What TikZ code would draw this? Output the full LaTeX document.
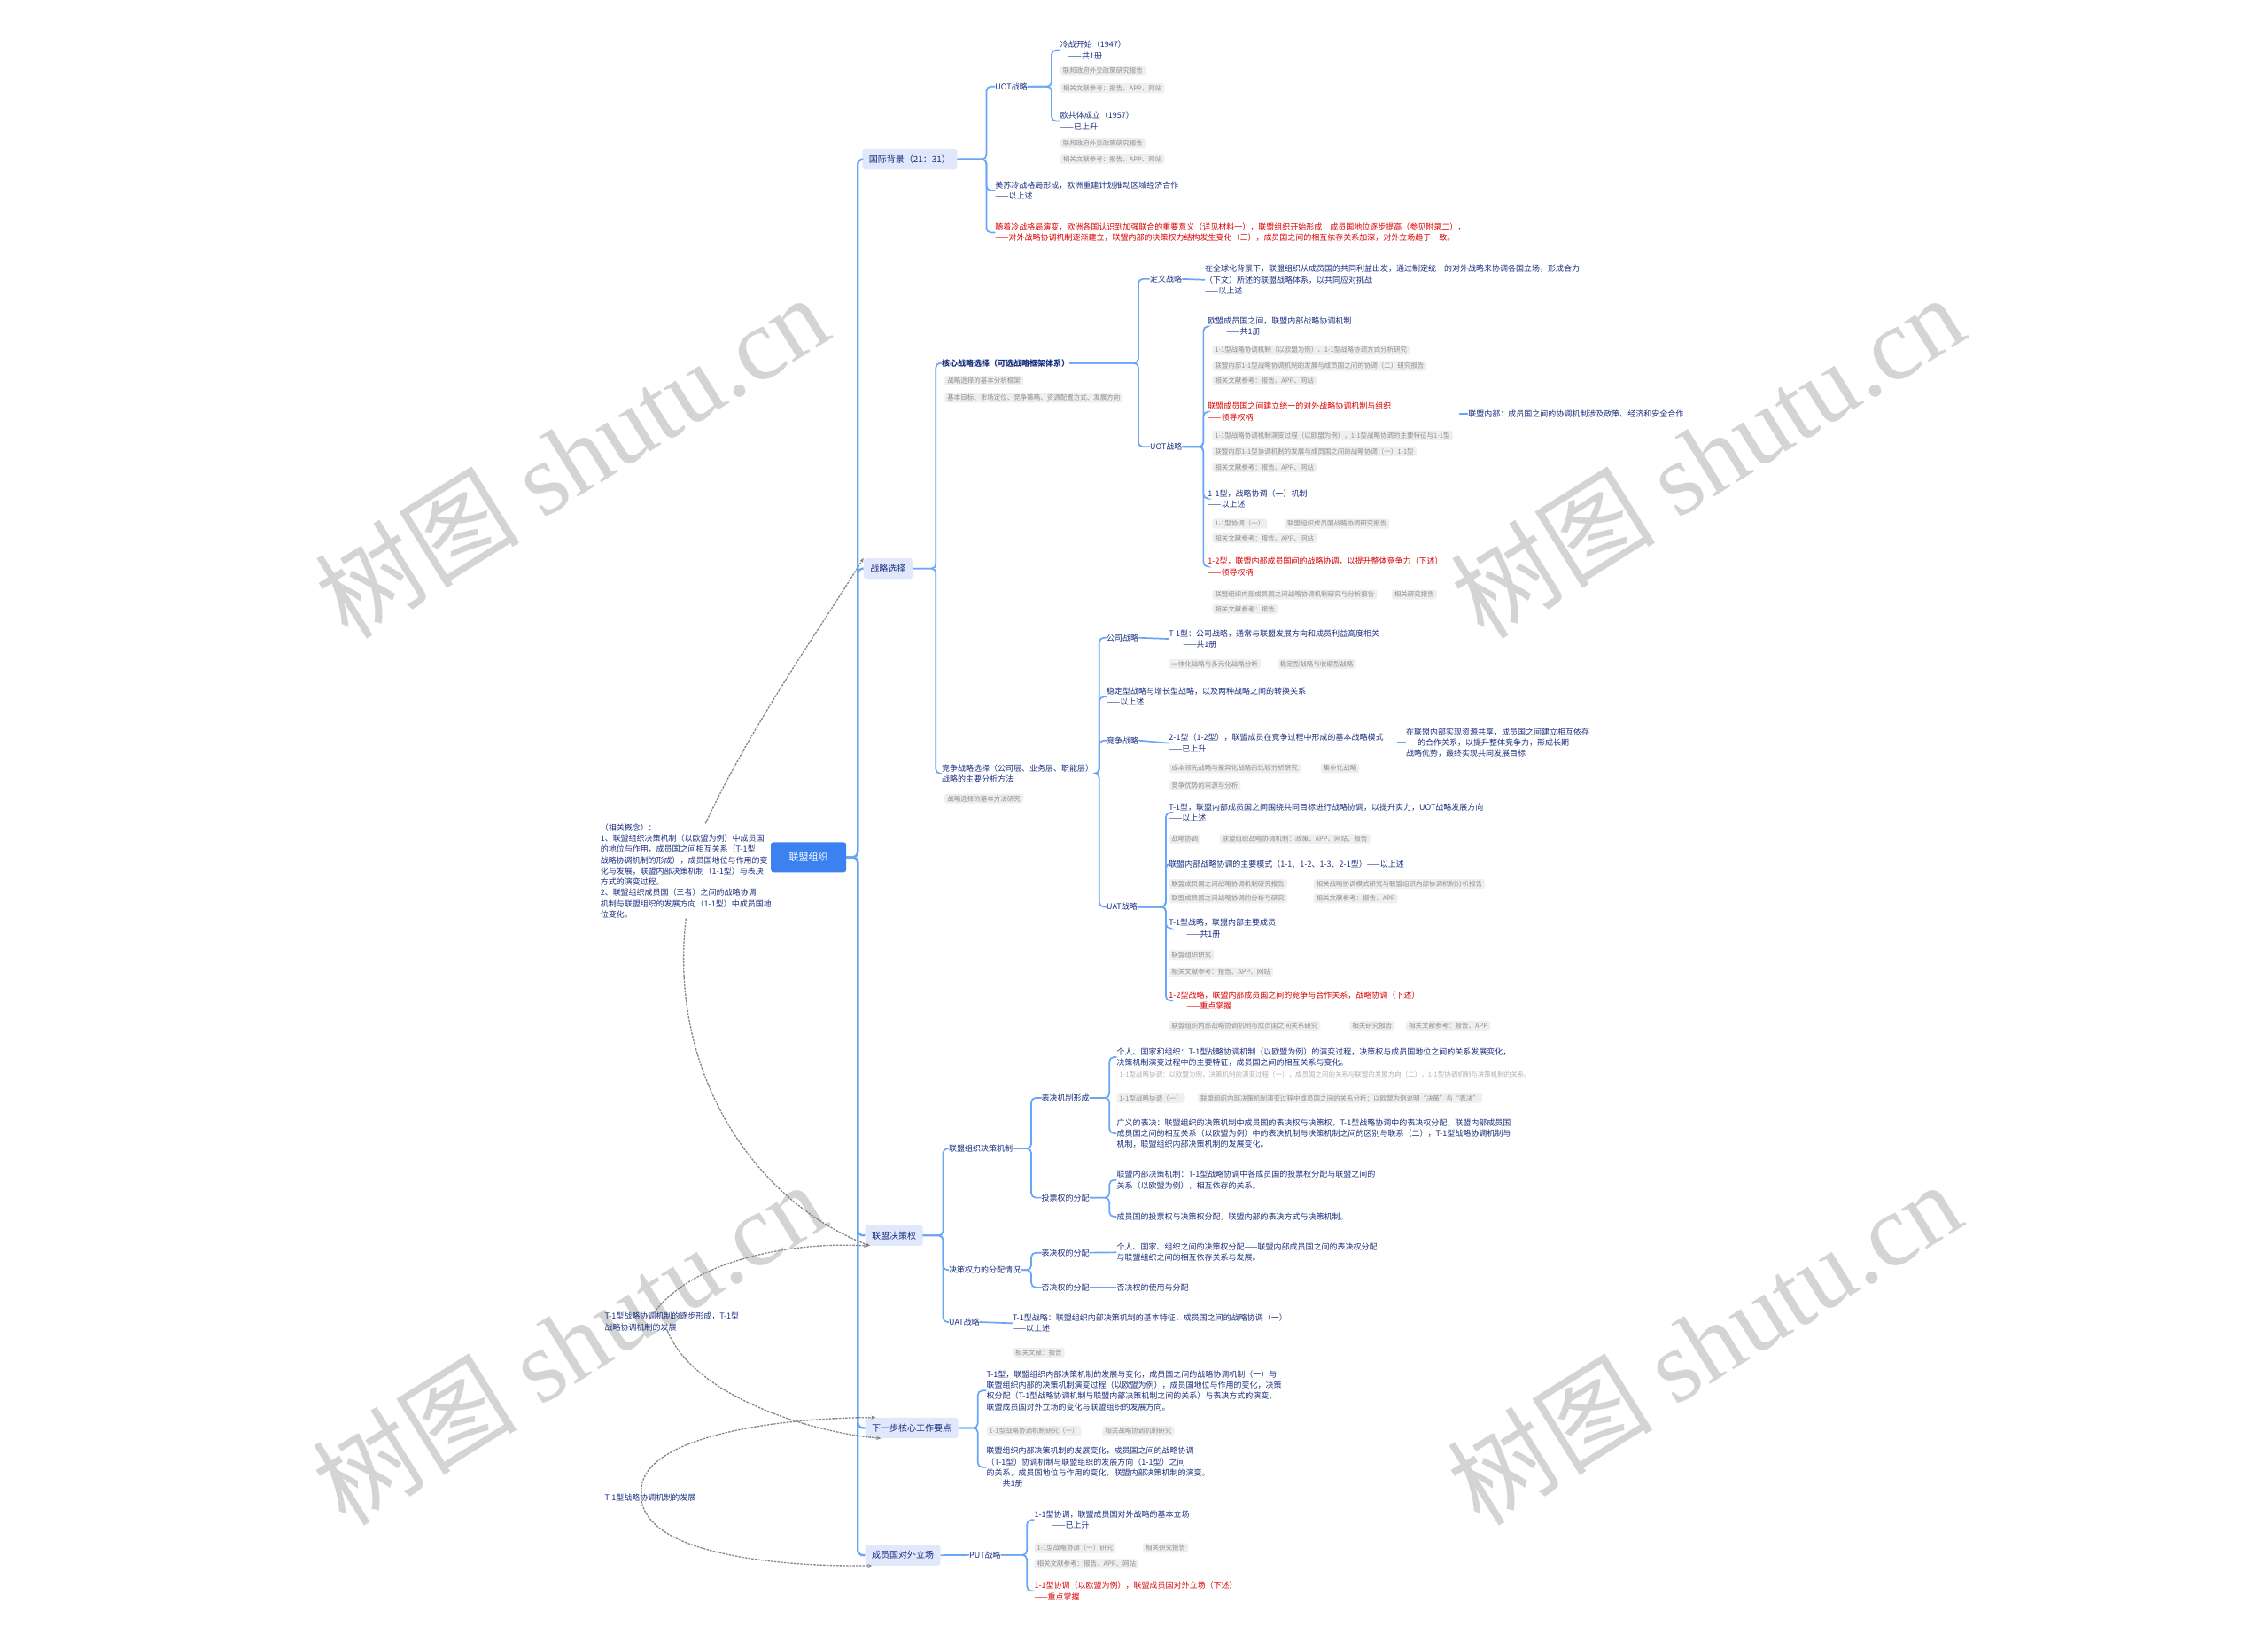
\documentclass[tikz,border=0pt]{standalone}
\usepackage{fontspec}
\setmainfont{Noto Sans CJK SC}
\newfontfamily\wmlat{Liberation Serif}
\usetikzlibrary{arrows.meta}
\definecolor{navy}{HTML}{1A2F80}
\definecolor{rred}{HTML}{DD0000}
\definecolor{lnk}{HTML}{6AA6F8}
\definecolor{lvone}{HTML}{E2E8FB}
\definecolor{rootc}{HTML}{3B82F0}
\definecolor{pillf}{HTML}{EFEFEF}
\definecolor{pillt}{HTML}{909090}
\definecolor{relc}{HTML}{858585}
\definecolor{wmc}{HTML}{D4D4D4}
\newcommand\brk[3]{\draw[conn] (#1.east) -- (#1.east -| #3) |- (#2.west);}
\tikzset{
 txt/.style={anchor=north west, yshift=4.6pt, inner sep=0pt, align=left, text=navy, font=\fontsize{9}{12.3}\selectfont},
 redtxt/.style={txt, text=rred},
 pill/.style={anchor=west, fill=pillf, rounded corners=2.5pt, inner xsep=3pt, inner ysep=2pt, text=pillt, font=\fontsize{7.5}{9}\selectfont},
 lvbox/.style={anchor=west, fill=lvone, rounded corners=3pt, inner xsep=7.5pt, inner ysep=7pt, text=navy, font=\fontsize{10}{12}\selectfont},
 rootbox/.style={fill=rootc, rounded corners=3pt, text=white, minimum width=85pt, minimum height=34pt, font=\fontsize{11}{13}\selectfont},
 conn/.style={draw=lnk, line width=1.7pt, rounded corners=5pt},
 trunk/.style={draw=lnk, line width=2.3pt, rounded corners=6pt},
 rel/.style={draw=relc, line width=1.3pt, dash pattern=on 2.5pt off 1.2pt, -{Stealth[length=5pt,width=4pt]}},
 wm/.style={text=wmc, rotate=32, font=\fontsize{116}{116}\selectfont},
}
\begin{document}
\begin{tikzpicture}[x=1.633pt, y=-1.633pt]
\useasboundingbox (0,0) rectangle (1568,1129);
\fill[white] (0,0) rectangle (1568,1129);

% ---------------- watermarks (behind)
\node[wm] (w1) at (395,315) {树图 {\wmlat shutu.cn}};
\node[wm] (w2) at (1180,315) {树图 {\wmlat shutu.cn}};
\node[wm] (w3) at (393,928) {树图 {\wmlat shutu.cn}};
\node[wm] (w4) at (1178,928) {树图 {\wmlat shutu.cn}};

% ---------------- root and trunk
\node[rootbox] (root) at (559,592.5) {联盟组织};
\coordinate (tk) at (593,0);
\node[lvbox] (b1) at (596,110) {国际背景（21：31）};
\node[lvbox] (b2) at (597,393) {战略选择};
\node[lvbox] (b3) at (598,854) {联盟决策权};
\node[lvbox] (b4) at (598,987) {下一步核心工作要点};
\node[lvbox] (b5) at (598,1075) {成员国对外立场};
\foreach \b in {b1,b2,b3,b4,b5}{\draw[trunk] (root.east) -- (root.east -| tk) |- (\b.west);}

% ---------------- branch 1
\coordinate (k1) at (682,0);
\coordinate (k1a) at (727,0);
\node[txt] (c1a) at (688,60) {UOT战略};
\node[txt] (k1t) at (733,31) {冷战开始（1947）\\\hspace{9pt}——共1册};
\node[pill] (pa1) at (733,49) {联邦政府外交政策研究报告};
\node[pill] (pa2) at (733,61) {相关文献参考：报告、APP、网站};
\node[txt] (k2t) at (733,80) {欧共体成立（1957）\\——已上升};
\node[pill] (pa3) at (733,99) {联邦政府外交政策研究报告};
\node[pill] (pa4) at (733,110) {相关文献参考：报告、APP、网站};
\node[txt] (c1b) at (688,128) {美苏冷战格局形成，欧洲重建计划推动区域经济合作\\——以上述};
\node[redtxt] (c1c) at (688,157) {随着冷战格局演变，欧洲各国认识到加强联合的重要意义（详见材料一），联盟组织开始形成，成员国地位逐步提高（参见附录二），\\——对外战略协调机制逐渐建立，联盟内部的决策权力结构发生变化（三），成员国之间的相互依存关系加深，对外立场趋于一致。};
\brk{b1}{c1a}{k1}
\brk{b1}{c1b}{k1}
\brk{b1}{c1c}{k1}
\brk{c1a}{k1t}{k1a}
\brk{c1a}{k2t}{k1a}

% ---------------- branch 2
\coordinate (k2) at (647,0);
\coordinate (k2a) at (787,0);
\coordinate (k2b) at (832,0);
\coordinate (k2c) at (760,0);
\coordinate (k2d) at (806,0);
\node[txt, font=\fontsize{9}{12.3}\selectfont\bfseries] (c2a) at (651,251) {核心战略选择（可选战略框架体系）};
\node[pill] (pb1) at (653,263) {战略选择的基本分析框架};
\node[pill] (pb2) at (653,275) {基本目标、市场定位、竞争策略、资源配置方式、发展方向};
\node[txt] (d1) at (795,193) {定义战略};
\node[txt] (d1t) at (833,186) {在全球化背景下，联盟组织从成员国的共同利益出发，通过制定统一的对外战略来协调各国立场，形成合力\\（下文）所述的联盟战略体系，以共同应对挑战\\——以上述};
\node[txt] (d2) at (795,309) {UOT战略};
\node[txt] (d2a) at (835,222) {欧盟成员国之间，联盟内部战略协调机制\\\hspace{21pt}——共1册};
\node[pill] (pc1) at (838,242) {1-1型战略协调机制（以欧盟为例）、1-1型战略协调方式分析研究};
\node[pill] (pc2) at (838,253) {联盟内部1-1型战略协调机制的发展与成员国之间的协调（二）研究报告};
\node[pill] (pc3) at (838,263) {相关文献参考：报告、APP、网站};
\node[redtxt] (d2b) at (835,281) {联盟成员国之间建立统一的对外战略协调机制与组织\\——领导权柄};
\node[txt] (r1) at (1015,286) {联盟内部：成员国之间的协调机制涉及政策、经济和安全合作};
\node[pill] (pc4) at (838,301) {1-1型战略协调机制演变过程（以欧盟为例），1-1型战略协调的主要特征与1-1型};
\node[pill] (pc5) at (838,312) {联盟内部1-1型协调机制的发展与成员国之间的战略协调（一）1-1型};
\node[pill] (pc6) at (838,323) {相关文献参考：报告、APP、网站};
\node[txt] (d2c) at (835,341) {1-1型，战略协调（一）机制\\——以上述};
\node[pill] (pc7) at (838,362) {1-1型协调（一）};
\node[pill] (pc8) at (888,362) {联盟组织成员国战略协调研究报告};
\node[pill] (pc9) at (838,372) {相关文献参考：报告、APP、网站};
\node[redtxt] (d2d) at (835,388) {1-2型，联盟内部成员国间的战略协调，以提升整体竞争力（下述）\\——领导权柄};
\node[pill] (pc10) at (838,411) {联盟组织内部成员国之间战略协调机制研究与分析报告};
\node[pill] (pc11) at (962,411) {相关研究报告};
\node[pill] (pc12) at (838,421) {相关文献参考：报告};
\brk{b2}{c2a}{k2}
\brk{c2a}{d1}{k2a}
\brk{c2a}{d2}{k2a}
\draw[conn] (d1.east) -- (d1t.west);
\brk{d2}{d2a}{k2b}
\brk{d2}{d2b}{k2b}
\brk{d2}{d2c}{k2b}
\brk{d2}{d2d}{k2b}
\draw[conn] ([xshift=-10pt]r1.west) -- (r1.west);

\node[txt] (c2b) at (651,531) {竞争战略选择（公司层、业务层、职能层）\\战略的主要分析方法};
\node[pill] (pd1) at (653,552) {战略选择的基本方法研究};
\node[txt] (e1) at (765,441) {公司战略};
\node[txt] (e1t) at (808,438) {T-1型：公司战略，通常与联盟发展方向和成员利益高度相关\\\hspace{16pt}——共1册};
\node[pill] (pd2) at (808,459) {一体化战略与多元化战略分析};
\node[pill] (pd3) at (883,459) {稳定型战略与收缩型战略};
\node[txt] (e2) at (765,478) {稳定型战略与增长型战略，以及两种战略之间的转换关系\\——以上述};
\node[txt] (e3) at (765,512) {竞争战略};
\node[txt] (e3t) at (808,510) {2-1型（1-2型），联盟成员在竞争过程中形成的基本战略模式\\——已上升};
\node[txt] (e3tt) at (972,506) {在联盟内部实现资源共享，成员国之间建立相互依存\\\hspace{13pt}的合作关系，以提升整体竞争力，形成长期\\战略优势，最终实现共同发展目标};
\node[pill] (pd4) at (808,531) {成本领先战略与差异化战略的比较分析研究};
\node[pill] (pd5) at (913,531) {集中化战略};
\node[pill] (pd6) at (808,543) {竞争优势的来源与分析};
\node[txt] (e4) at (765,627) {UAT战略};
\node[txt] (e4a) at (808,558) {T-1型，联盟内部成员国之间围绕共同目标进行战略协调，以提升实力，UOT战略发展方向\\——以上述};
\node[pill] (pe1) at (808,580) {战略协调};
\node[pill] (pe2) at (843,580) {联盟组织战略协调机制：政策、APP、网站、报告};
\node[txt] (e4b) at (808,597) {联盟内部战略协调的主要模式（1-1、1-2、1-3、2-1型）——以上述};
\node[pill] (pe3) at (808,611) {联盟成员国之间战略协调机制研究报告};
\node[pill] (pe4) at (908,611) {相关战略协调模式研究与联盟组织内部协调机制分析报告};
\node[pill] (pe5) at (808,621) {联盟成员国之间战略协调的分析与研究};
\node[pill] (pe6) at (908,621) {相关文献参考：报告、APP};
\node[txt] (e4c) at (808,638) {T-1型战略，联盟内部主要成员\\\hspace{20pt}——共1册};
\node[pill] (pe7) at (808,660) {联盟组织研究};
\node[pill] (pe8) at (808,672) {相关文献参考：报告、APP、网站};
\node[redtxt] (e4d) at (808,688) {1-2型战略，联盟内部成员国之间的竞争与合作关系，战略协调（下述）\\\hspace{20pt}——重点掌握};
\node[pill] (pe9) at (808,709) {联盟组织内部战略协调机制与成员国之间关系研究};
\node[pill] (pe10) at (933,709) {相关研究报告};
\node[pill] (pe11) at (972,709) {相关文献参考：报告、APP};
\brk{b2}{c2b}{k2}
\brk{c2b}{e1}{k2c}
\brk{c2b}{e2}{k2c}
\brk{c2b}{e3}{k2c}
\brk{c2b}{e4}{k2c}
\draw[conn] (e1.east) -- (e1t.west);
\draw[conn] (e3.east) -- (e3t.west);
\draw[conn] ([xshift=-10pt]e3tt.west) -- (e3tt.west);
\brk{e4}{e4a}{k2d}
\brk{e4}{e4b}{k2d}
\brk{e4}{e4c}{k2d}
\brk{e4}{e4d}{k2d}

% ---------------- branch 3
\coordinate (k3) at (652,0);
\coordinate (k3a) at (713,0);
\coordinate (k3b) at (767,0);
\node[txt] (f1) at (656,794) {联盟组织决策机制};
\node[txt] (g1) at (720,759) {表决机制形成};
\node[txt] (g1a) at (772,727) {个人、国家和组织：T-1型战略协调机制（以欧盟为例）的演变过程，决策权与成员国地位之间的关系发展变化，\\决策机制演变过程中的主要特征，成员国之间的相互关系与变化。};
\node[pill, fill=white, text=pillt!70] (pf1) at (772,743) {1-1型战略协调：以欧盟为例，决策机制的演变过程（一），成员国之间的关系与联盟的发展方向（二），1-1型协调机制与决策机制的关系。};
\node[pill] (pf2) at (772,759) {1-1型战略协调（一）};
\node[pill] (pf3) at (828,759) {联盟组织内部决策机制演变过程中成员国之间的关系分析：以欧盟为例说明“决策”与“表决”};
\node[txt] (g1c) at (772,776) {广义的表决：联盟组织的决策机制中成员国的表决权与决策权，T-1型战略协调中的表决权分配，联盟内部成员国\\成员国之间的相互关系（以欧盟为例）中的表决机制与决策机制之间的区别与联系（二），T-1型战略协调机制与\\机制，联盟组织内部决策机制的发展变化。};
\node[txt] (g2) at (720,828) {投票权的分配};
\node[txt] (g2a) at (772,812) {联盟内部决策机制：T-1型战略协调中各成员国的投票权分配与联盟之间的\\关系（以欧盟为例），相互依存的关系。};
\node[txt] (g2b) at (772,841) {成员国的投票权与决策权分配，联盟内部的表决方式与决策机制。};
\node[txt] (f2) at (656,878) {决策权力的分配情况};
\node[txt] (h1) at (720,866) {表决权的分配};
\node[txt] (h1t) at (772,862) {个人、国家、组织之间的决策权分配——联盟内部成员国之间的表决权分配\\与联盟组织之间的相互依存关系与发展。};
\node[txt] (h2) at (720,890) {否决权的分配};
\node[txt] (h2t) at (772,890) {否决权的使用与分配};
\node[txt] (f3) at (656,914) {UAT战略};
\node[txt] (f3t) at (700,911) {T-1型战略：联盟组织内部决策机制的基本特征，成员国之间的战略协调（一）\\——以上述};
\node[pill] (pf4) at (700,935) {相关文献：报告};
\brk{b3}{f1}{k3}
\brk{b3}{f2}{k3}
\brk{b3}{f3}{k3}
\brk{f1}{g1}{k3a}
\brk{f1}{g2}{k3a}
\brk{g1}{g1a}{k3b}
\brk{g1}{g1c}{k3b}
\brk{g2}{g2a}{k3b}
\brk{g2}{g2b}{k3b}
\brk{f2}{h1}{k3a}
\brk{f2}{h2}{k3a}
\draw[conn] (h1.east) -- (h1t.west);
\draw[conn] (h2.east) -- (h2t.west);
\draw[conn] (f3.east) -- (f3t.west);

% ---------------- branch 4
\coordinate (k4) at (676,0);
\node[txt] (b4a) at (682,950) {T-1型，联盟组织内部决策机制的发展与变化，成员国之间的战略协调机制（一）与\\联盟组织内部的决策机制演变过程（以欧盟为例），成员国地位与作用的变化，决策\\权分配（T-1型战略协调机制与联盟内部决策机制之间的关系）与表决方式的演变，\\联盟成员国对外立场的变化与联盟组织的发展方向。};
\node[pill] (pg1) at (682,989) {1-1型战略协调机制研究（一）};
\node[pill] (pg2) at (762,989) {相关战略协调机制研究};
\node[txt] (b4b) at (682,1003) {联盟组织内部决策机制的发展变化，成员国之间的战略协调\\（T-1型）协调机制与联盟组织的发展方向（1-1型）之间\\的关系，成员国地位与作用的变化，联盟内部决策机制的演变。\\\hspace{18pt}共1册};
\brk{b4}{b4a}{k4}
\brk{b4}{b4b}{k4}

% ---------------- branch 5
\coordinate (k5) at (710,0);
\node[txt] (p5) at (670,1075) {PUT战略};
\node[txt] (p5a) at (715,1047) {1-1型协调，联盟成员国对外战略的基本立场\\\hspace{20pt}——已上升};
\node[pill] (ph1) at (715,1070) {1-1型战略协调（一）研究};
\node[pill] (ph2) at (790,1070) {相关研究报告};
\node[pill] (ph3) at (715,1081) {相关文献参考：报告、APP、网站};
\node[redtxt] (p5b) at (715,1096) {1-1型协调（以欧盟为例），联盟成员国对外立场（下述）\\——重点掌握};
\draw[conn] (b5.east) -- (p5.west);
\brk{p5}{p5a}{k5}
\brk{p5}{p5b}{k5}

% ---------------- floating notes
\node[txt] (l1) at (415,572) {（相关概念）：\\1、联盟组织决策机制（以欧盟为例）中成员国\\的地位与作用，成员国之间相互关系（T-1型\\战略协调机制的形成），成员国地位与作用的变\\化与发展，联盟内部决策机制（1-1型）与表决\\方式的演变过程。\\2、联盟组织成员国（三者）之间的战略协调\\机制与联盟组织的发展方向（1-1型）中成员国地\\位变化。};
\node[txt] (l2) at (418,910) {T-1型战略协调机制的逐步形成，T-1型\\战略协调机制的发展};
\node[txt] (l3) at (418,1035) {T-1型战略协调机制的发展};

\draw[rel] ([xshift=22pt]l1.north) .. controls (520,500) and (570,430) .. (b2.north west);
\draw[rel] (l1.south) .. controls (462,740) and (520,830) .. ([xshift=6pt]b3.south west);
\draw[rel] ([xshift=-20pt]l2.north) .. controls (480,870) and (550,858) .. ([xshift=4pt]b3.south west);
\draw[rel] ([xshift=-5pt]l2.south) .. controls (480,965) and (560,990) .. ([xshift=18pt]b4.south west);
\draw[rel] ([xshift=-10pt]l3.north) .. controls (440,995) and (530,980) .. ([xshift=12pt]b4.north west);
\draw[rel] ([xshift=-10pt]l3.south) .. controls (450,1075) and (540,1083) .. ([xshift=8pt]b5.south west);
\end{tikzpicture}
\end{document}
